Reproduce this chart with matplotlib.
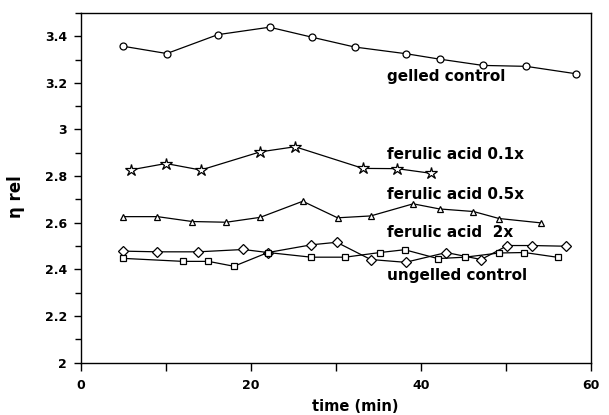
import matplotlib.pyplot as plt
from matplotlib.ticker import MultipleLocator, FuncFormatter

plt.rcParams['font.family'] = ['DejaVu Sans']
plt.rcParams['font.weight'] = 'bold'

# gelled control (circles)
t_gel = [5.0, 10.1, 16.1, 22.2, 27.2, 32.2, 38.3, 42.2, 47.3, 52.4, 58.3]
v_gel = [3.357, 3.326, 3.407, 3.439, 3.396, 3.354, 3.325, 3.302, 3.275, 3.271, 3.239]

# ferulic acid 0.1x (stars)
t_f01 = [5.9, 10.0, 14.1, 21.1, 25.2, 33.2, 37.2, 41.2]
v_f01 = [2.827, 2.854, 2.826, 2.904, 2.926, 2.833, 2.832, 2.812]

# ferulic acid 0.5x (triangles)
t_f05 = [4.9, 9.0, 13.1, 17.1, 21.1, 26.1, 30.2, 34.1, 39.1, 42.2, 46.2, 49.2, 54.2]
v_f05 = [2.626, 2.626, 2.605, 2.602, 2.623, 2.692, 2.621, 2.629, 2.681, 2.659, 2.648, 2.618, 2.599]

# ferulic acid 2x (diamonds)
t_f2 = [4.9, 9.0, 13.8, 19.1, 22.0, 27.1, 30.1, 34.1, 38.2, 43.0, 47.1, 50.2, 53.1, 57.1]
v_f2 = [2.478, 2.475, 2.475, 2.485, 2.472, 2.505, 2.516, 2.442, 2.430, 2.472, 2.442, 2.502, 2.502, 2.499]

# ungelled control (squares)
t_ung = [4.9, 12.0, 15.0, 18.0, 22.0, 27.1, 31.1, 35.2, 38.1, 42.0, 45.2, 49.2, 52.2, 56.2]
v_ung = [2.447, 2.434, 2.434, 2.413, 2.472, 2.452, 2.452, 2.472, 2.484, 2.446, 2.452, 2.470, 2.472, 2.451]

labels = ['gelled control', 'ferulic acid 0.1x', 'ferulic acid 0.5x',
          'ferulic acid  2x', 'ungelled control']
label_y = [3.229, 2.891, 2.723, 2.559, 2.374]

fig = plt.figure(figsize=(6.09, 4.15), dpi=100)
ax = fig.add_axes([0.133, 0.1265, 0.837, 0.8422])

kw = dict(color='black', lw=0.9, mfc='white', mec='black', mew=0.9)
ax.plot(t_gel, v_gel, marker='o', ms=5, **kw)
ax.plot(t_f01, v_f01, marker='*', ms=9, **kw)
ax.plot(t_f05, v_f05, marker='^', ms=5, **kw)
ax.plot(t_f2, v_f2, marker='D', ms=5, **kw)
ax.plot(t_ung, v_ung, marker='s', ms=5, **kw)

for lab, y in zip(labels, label_y):
    ax.text(36.0, y, lab, fontsize=11, fontweight='bold', va='center', ha='left')

ax.set_xlim(0, 60)
ax.set_ylim(2, 3.5)
ax.xaxis.set_major_locator(MultipleLocator(20))
ax.xaxis.set_minor_locator(MultipleLocator(10))
ax.yaxis.set_major_locator(MultipleLocator(0.2))
ax.yaxis.set_minor_locator(MultipleLocator(0.1))
ax.yaxis.set_major_formatter(FuncFormatter(lambda v, p: '%g' % round(v, 2)))
ax.tick_params(axis='y', which='major', length=5, width=1, labelsize=9, pad=5)
ax.tick_params(axis='y', which='minor', length=4, width=1)
ax.tick_params(axis='x', which='major', length=6, width=1, labelsize=9, pad=6)
ax.tick_params(axis='x', which='minor', length=6, width=1)
for s in ax.spines.values():
    s.set_linewidth(1)

ax.set_xlabel('time (min)', fontsize=10.5, fontweight='bold', va='center')
ax.xaxis.set_label_coords(0.539, -0.126)
ax.set_ylabel('η rel', fontsize=12, fontweight='bold', va='center', ha='center')
ax.yaxis.set_label_coords(-0.128, 0.474)

fig.savefig('out.png', dpi=100)
